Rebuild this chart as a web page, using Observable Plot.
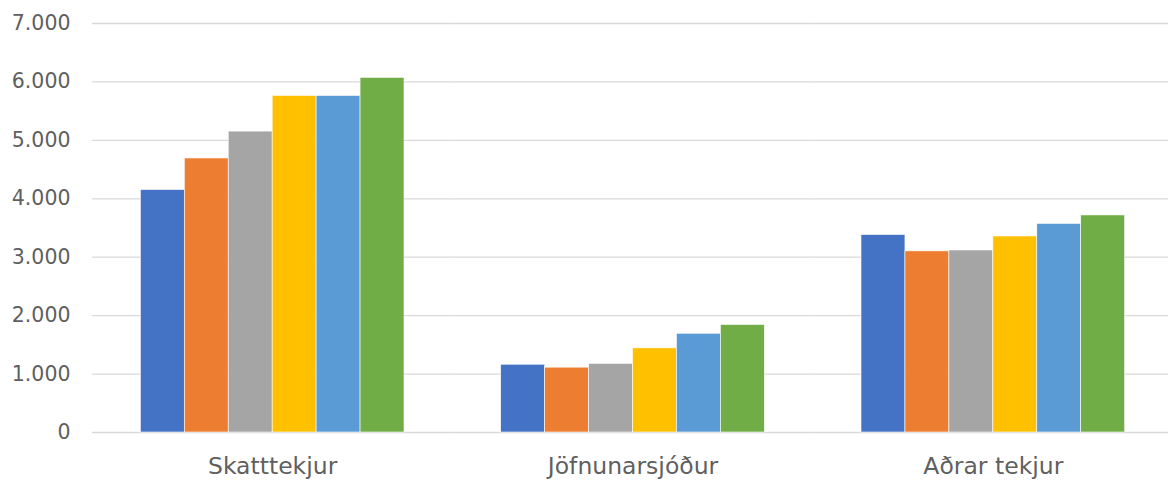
<!DOCTYPE html>
<html>
<head>
<meta charset="utf-8">
<script src="https://cdn.jsdelivr.net/npm/d3@7"></script>
<script src="https://cdn.jsdelivr.net/npm/@observablehq/plot@0.6"></script>
<style>
  html, body { margin: 0; padding: 0; background: #fff; }
</style>
</head>
<body>
<div id="chart"></div>
<script>
const categories = ["Skatttekjur", "Jöfnunarsjóður", "Aðrar tekjur"];
const series = ["Röð 1", "Röð 2", "Röð 3", "Röð 4", "Röð 5", "Röð 6"];
const colors = ["#4472C4", "#ED7D31", "#A5A5A5", "#FFC000", "#5B9BD5", "#70AD47"];
const skatttekjur = [4150, 4690, 5150, 5760, 5760, 6070];
const jofnunarsjodur = [1160, 1110, 1175, 1440, 1690, 1840];
const adrarTekjur = [3380, 3100, 3115, 3355, 3570, 3715];
const yTicks = [0, 1000, 2000, 3000, 4000, 5000, 6000, 7000];

const valuesByCategory = [skatttekjur, jofnunarsjodur, adrarTekjur];
const data = [];
categories.forEach((c, i) => {
  series.forEach((s, j) => data.push({cat: c, series: s, value: valuesByCategory[i][j]}));
});

const isl = d3.formatLocale({decimal: ",", thousands: ".", grouping: [3], currency: ["", " kr."]});
const fmt = isl.format(",");

const chart = Plot.plot({
  width: 1168,
  height: 482,
  marginLeft: 92,
  marginRight: -5,
  marginTop: 23,
  marginBottom: 50,
  style: {fontFamily: "DejaVu Sans, sans-serif", fontSize: "20.5px", color: "#5f5f5f", background: "#fff", overflow: "hidden"},
  fx: {domain: categories, padding: 0, round: false, label: null, axis: "bottom", tickSize: 0, tickPadding: 25},
  x: {domain: series, paddingInner: 0, paddingOuter: 1.1, round: false, axis: null},
  y: {domain: [0, 7000], ticks: yTicks, tickFormat: fmt, label: null, tickSize: 0, tickPadding: 22},
  color: {domain: series, range: colors},
  marks: [
    Plot.ruleY(yTicks, {stroke: "#d9d9d9", strokeWidth: 1.3}),
    Plot.barY(data, {fx: "cat", x: "series", y: "value", fill: "series", stroke: "#fff", strokeWidth: 0.6, inset: 0})
  ]
});
d3.select(chart).selectAll('[aria-label^="fx-axis"]').attr("font-size", 23.5);
document.getElementById("chart").appendChild(chart);
</script>
</body>
</html>
